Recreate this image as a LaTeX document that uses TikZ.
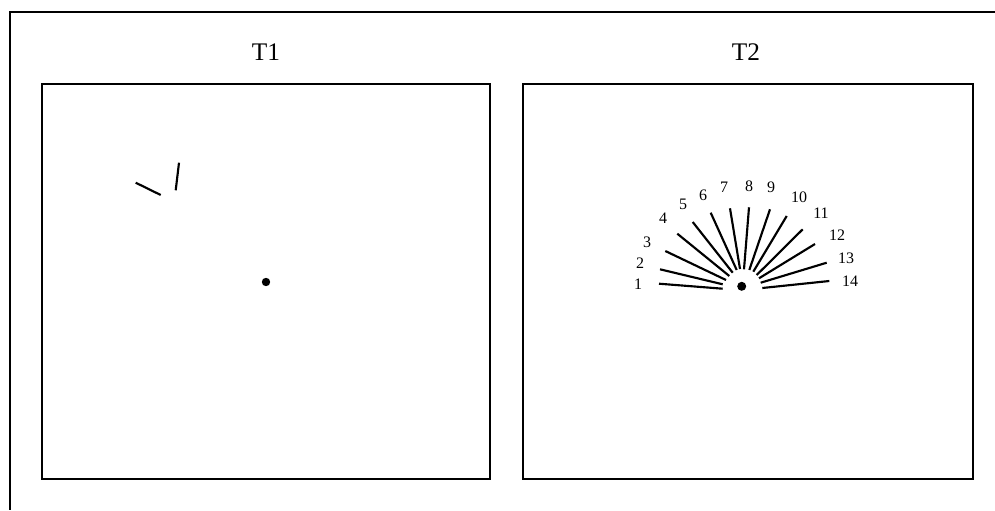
\documentclass[tikz,border=0pt]{standalone}
\usepackage{fontspec}
\setmainfont{Liberation Serif}

\tikzset{every picture/.style={line width=1.2pt}}

\begin{document}
\begin{tikzpicture}[x=0.75pt,y=0.75pt,yscale=-1,xscale=1]
		\useasboundingbox (0,0) rectangle (995,510); %set diagram to the size of the page
		
		%Outer frame [id:frame] 
		\draw [line width=1.5pt]  (995,12) -- (9.5,12) -- (9.5,510) ;
		%Shape: Rectangle [id:boxT1] 
		\draw   (42,84) rectangle (490,479) ;
		%Shape: Rectangle [id:boxT2] 
		\draw   (523,84) rectangle (973,479) ;
		
		%Straight Lines [id:left line a] 
		\draw [line width=1.6pt]  (135.7,182.7) -- (160.7,195) ;
		%Straight Lines [id:left line b] 
		\draw [line width=1.6pt]  (179,162.7) -- (175.7,190.3) ;
		%Shape: Circle [id:dot T1] 
		\fill  (266,282) circle (4.2) ;
		
		%Shape: Circle [id:dot T2] 
		\fill  (741.7,286.3) circle (4.5) ;
		%Straight Lines [id:fan 1] 
		\draw [line width=1.6pt]  (659,283.7) -- (722.7,288.7) ;
		%Straight Lines [id:fan 2] 
		\draw [line width=1.6pt]  (660,269.3) -- (722.7,284.3) ;
		%Straight Lines [id:fan 3] 
		\draw [line width=1.6pt]  (665.3,251) -- (726,280) ;
		%Straight Lines [id:fan 4] 
		\draw [line width=1.6pt]  (677.3,233.7) -- (729.3,276) ;
		%Straight Lines [id:fan 5] 
		\draw [line width=1.6pt]  (692.7,222) -- (732.7,272.7) ;
		%Straight Lines [id:fan 6] 
		\draw [line width=1.6pt]  (710.7,212.7) -- (736.7,270) ;
		%Straight Lines [id:fan 7] 
		\draw [line width=1.6pt]  (730,208.3) -- (740,269) ;
		%Straight Lines [id:fan 8] 
		\draw [line width=1.6pt]  (749,207.3) -- (744,269.3) ;
		%Straight Lines [id:fan 9] 
		\draw [line width=1.6pt]  (770,209.3) -- (749.3,270) ;
		%Straight Lines [id:fan 10] 
		\draw [line width=1.6pt]  (786.7,216) -- (753.3,271.7) ;
		%Straight Lines [id:fan 11] 
		\draw [line width=1.6pt]  (802.7,229.3) -- (756.7,275) ;
		%Straight Lines [id:fan 12] 
		\draw [line width=1.6pt]  (815,244) -- (759,278.3) ;
		%Straight Lines [id:fan 13] 
		\draw [line width=1.6pt]  (826.7,262.7) -- (760.7,282.7) ;
		%Straight Lines [id:fan 14] 
		\draw [line width=1.6pt]  (829.3,281) -- (762.3,288) ;
		
		% Text Node
		\draw (266,52) node (t1) [inner sep=0.75pt]   [align=left] {\fontsize{19}{22}\selectfont T1};
		% Text Node
		\draw (746,52) node (t2) [inner sep=0.75pt]   [align=left] {\fontsize{19}{22}\selectfont T2};
		% Text Node
		\draw (638,284) node (n1) [inner sep=0.75pt]   [align=left] {\fontsize{12}{14}\selectfont 1};
		% Text Node
		\draw (640,263) node (n2) [inner sep=0.75pt]   [align=left] {\fontsize{12}{14}\selectfont 2};
		% Text Node
		\draw (647,242) node (n3) [inner sep=0.75pt]   [align=left] {\fontsize{12}{14}\selectfont 3};
		% Text Node
		\draw (663,218) node (n4) [inner sep=0.75pt]   [align=left] {\fontsize{12}{14}\selectfont 4};
		% Text Node
		\draw (683,204) node (n5) [inner sep=0.75pt]   [align=left] {\fontsize{12}{14}\selectfont 5};
		% Text Node
		\draw (703,195) node (n6) [inner sep=0.75pt]   [align=left] {\fontsize{12}{14}\selectfont 6};
		% Text Node
		\draw (724,187) node (n7) [inner sep=0.75pt]   [align=left] {\fontsize{12}{14}\selectfont 7};
		% Text Node
		\draw (749,186) node (n8) [inner sep=0.75pt]   [align=left] {\fontsize{12}{14}\selectfont 8};
		% Text Node
		\draw (771,187) node (n9) [inner sep=0.75pt]   [align=left] {\fontsize{12}{14}\selectfont 9};
		% Text Node
		\draw (799,197) node (n10) [inner sep=0.75pt]   [align=left] {\fontsize{12}{14}\selectfont 10};
		% Text Node
		\draw (821,213) node (n11) [inner sep=0.75pt]   [align=left] {\fontsize{12}{14}\selectfont 11};
		% Text Node
		\draw (837,235) node (n12) [inner sep=0.75pt]   [align=left] {\fontsize{12}{14}\selectfont 12};
		% Text Node
		\draw (846,258) node (n13) [inner sep=0.75pt]   [align=left] {\fontsize{12}{14}\selectfont 13};
		% Text Node
		\draw (850,281) node (n14) [inner sep=0.75pt]   [align=left] {\fontsize{12}{14}\selectfont 14};
		
	\end{tikzpicture}
\end{document}
